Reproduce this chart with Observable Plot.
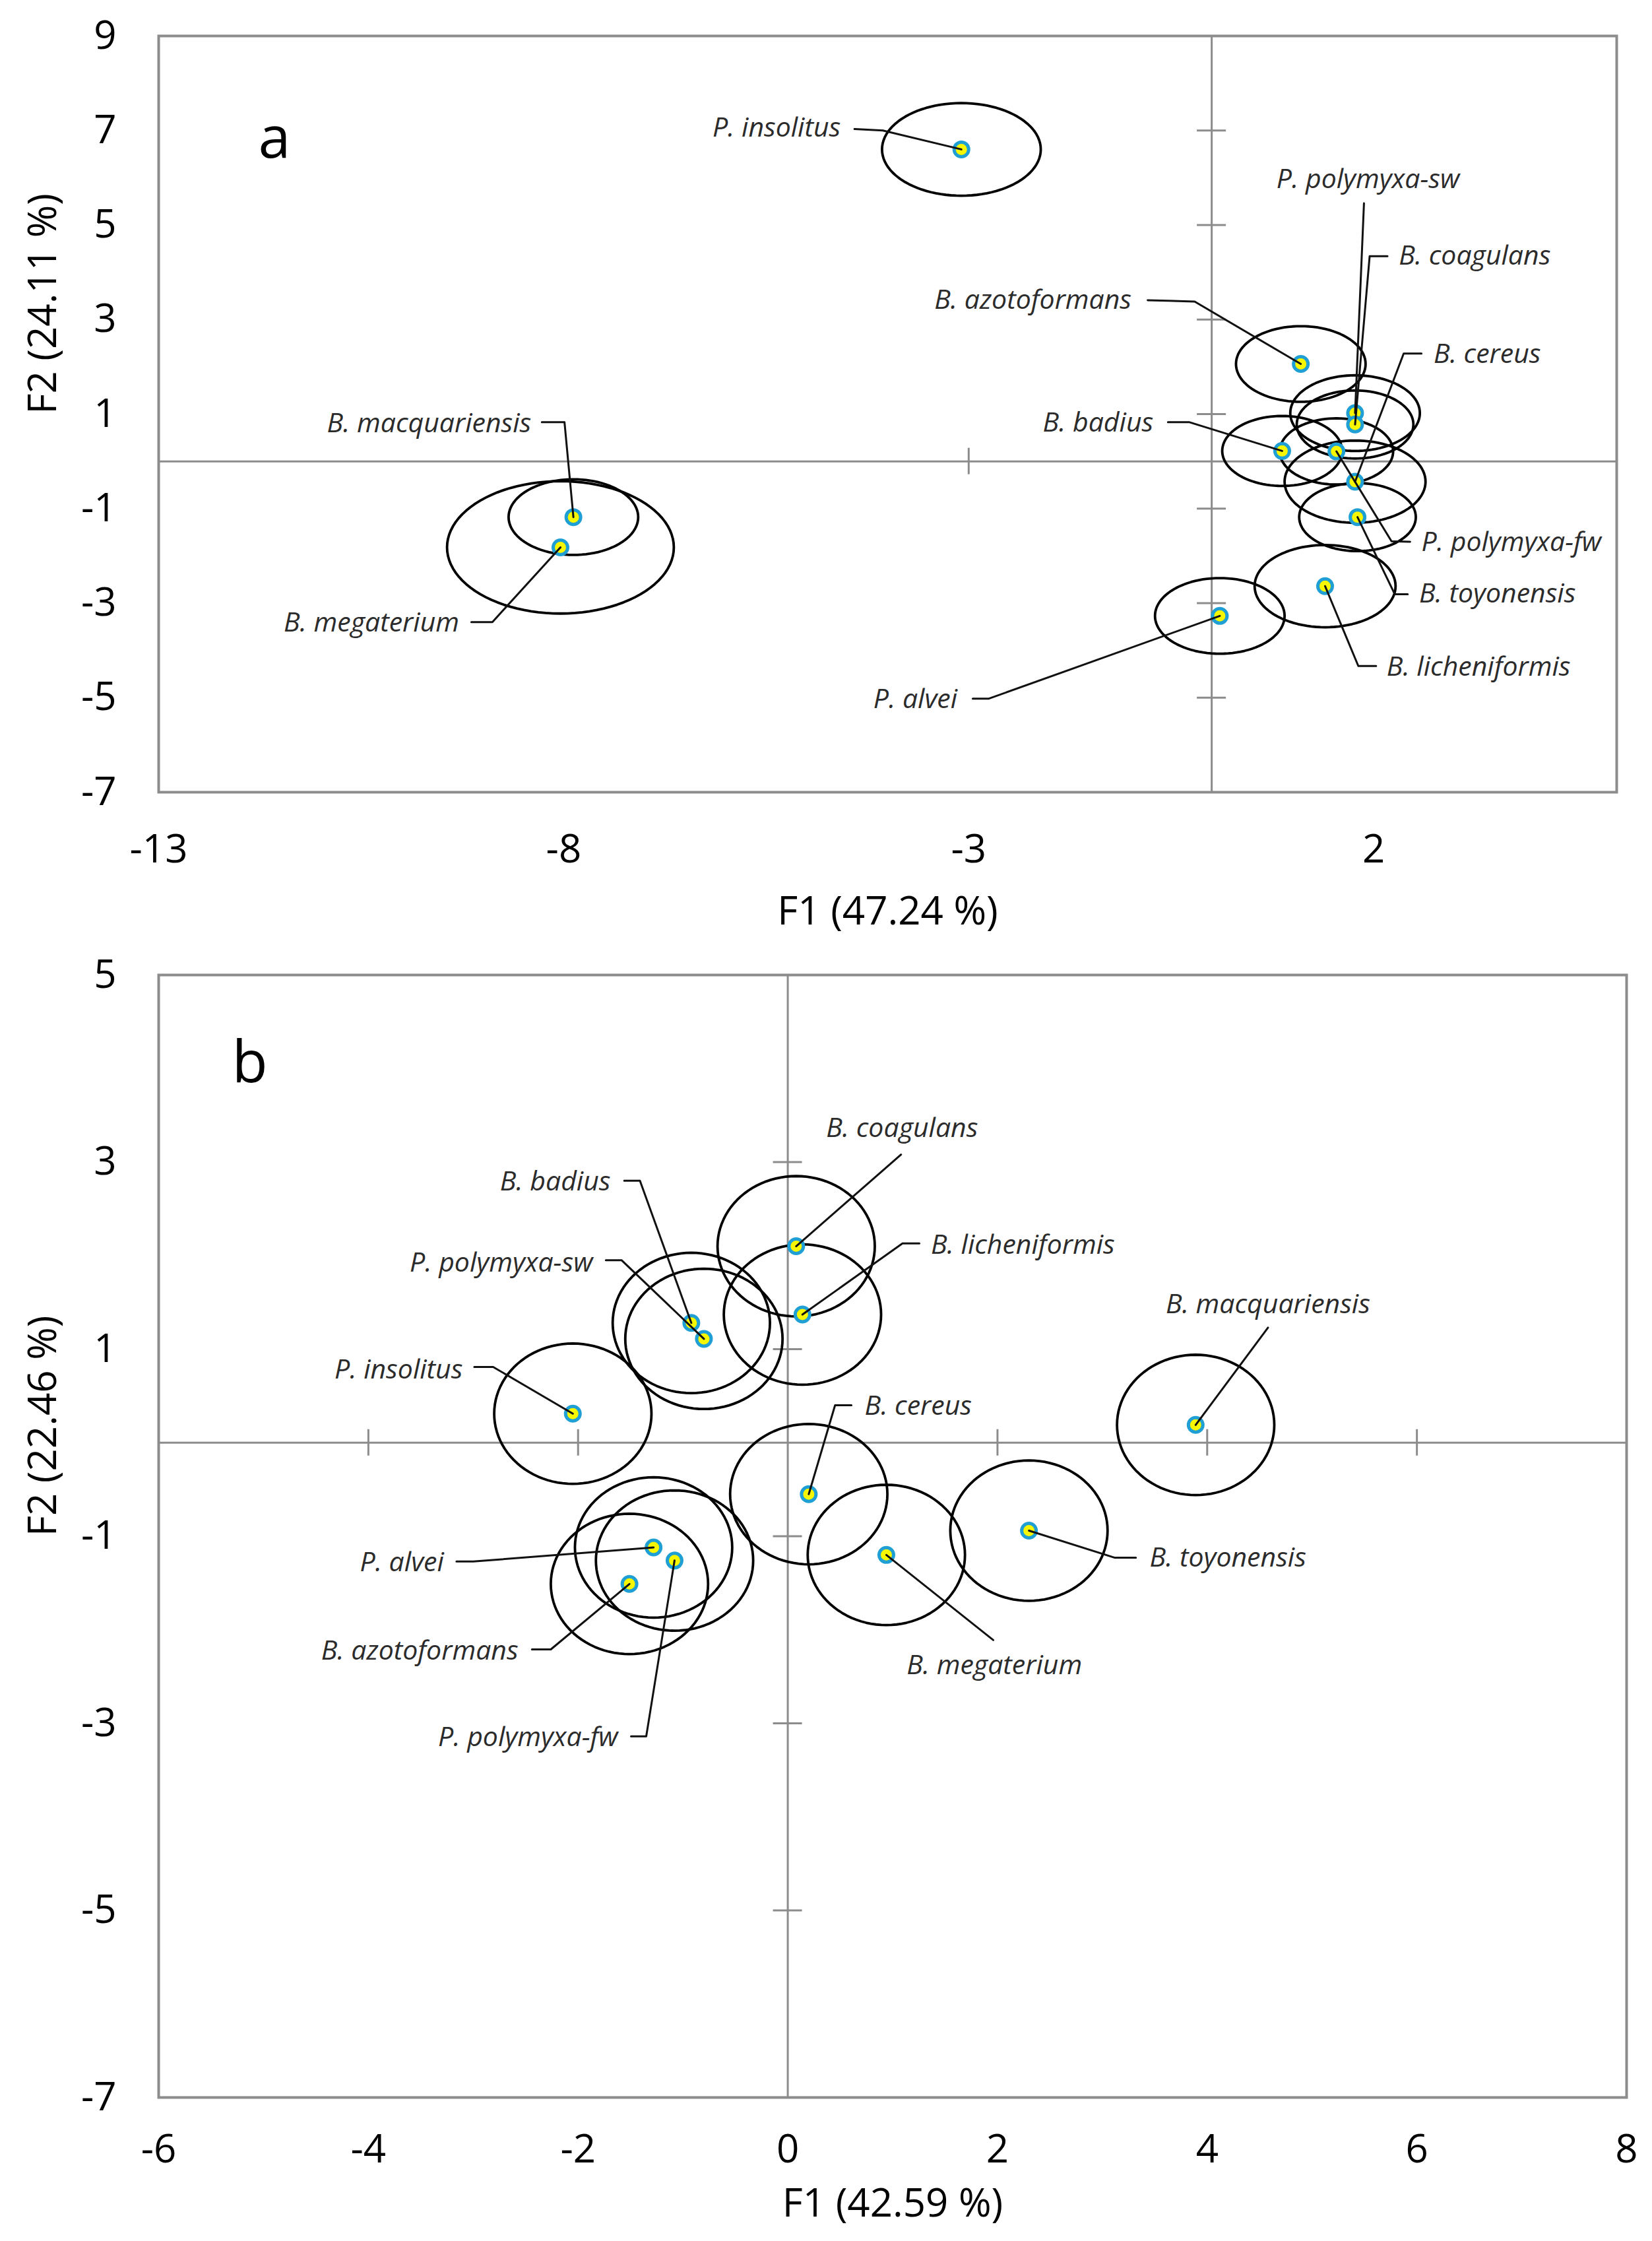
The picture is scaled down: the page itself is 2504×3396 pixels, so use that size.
<!DOCTYPE html>
<html><head><meta charset="utf-8">
<script src="https://cdn.jsdelivr.net/npm/d3@7"></script>
<script src="https://cdn.jsdelivr.net/npm/@observablehq/plot@0.6"></script>
<style>
body{margin:0;background:#fff;}
#wrap{width:2504px;height:3396px;position:relative;background:#fff;}
#wrap svg{display:block;}
</style></head><body><div id="wrap"><div id="pa"></div><div id="pb"></div></div>
<script>
// ---------- Panel a data ----------
const speciesA = ["P. insolitus","B. azotoformans","P. polymyxa-sw","B. coagulans","B. badius","P. polymyxa-fw","B. cereus","B. toyonensis","B. licheniformis","P. alvei","B. macquariensis","B. megaterium"];
const f1A = [-3.09, 1.10, 1.77, 1.77, 0.87, 1.54, 1.77, 1.80, 1.40, 0.10, -7.88, -8.04];
const f2A = [6.60, 2.06, 1.02, 0.78, 0.22, 0.21, -0.43, -1.18, -2.64, -3.27, -1.18, -1.82];
const radiusA = [0.98, 0.80, 0.80, 0.72, 0.74, 0.70, 0.87, 0.72, 0.87, 0.80, 0.80, 1.40];
const xTicksA = [-13, -8, -3, 2];
const yTicksA = [9, 7, 5, 3, 1, -1, -3, -5, -7];
const axisMarksXA = [-3];
const axisMarksYA = [7, 5, 3, 1, -1, -3, -5];

// ---------- Panel b data ----------
const speciesB = ["B. coagulans","B. licheniformis","B. badius","P. polymyxa-sw","P. insolitus","B. cereus","B. macquariensis","P. alvei","P. polymyxa-fw","B. azotoformans","B. megaterium","B. toyonensis"];
const f1B = [0.08, 0.14, -0.92, -0.80, -2.05, 0.20, 3.89, -1.28, -1.08, -1.51, 0.94, 2.30];
const f2B = [2.10, 1.37, 1.28, 1.11, 0.31, -0.55, 0.19, -1.12, -1.26, -1.51, -1.20, -0.94];
const radiusB = [0.75, 0.75, 0.75, 0.75, 0.75, 0.75, 0.75, 0.75, 0.75, 0.75, 0.75, 0.75];
const xTicksB = [-6, -4, -2, 0, 2, 4, 6, 8];
const yTicksB = [5, 3, 1, -1, -3, -5, -7];
const axisMarksXB = [-4, -2, 2, 4, 6];
const axisMarksYB = [3, 1, -1, -3, -5];

// ---------- Label layout (data units): text anchor point, leader start, leader elbow ----------
const labelsA = [
  {name:"P. insolitus",     anchor:"end",    tx:-4.58, ty:7.06,  sx:-4.41, sy:7.03, ex:-4.06, ey:7.00},
  {name:"P. polymyxa-sw",   anchor:"middle", tx:1.93,  ty:5.96,  sx:1.88,  sy:5.46, ex:1.88,  ey:5.46},
  {name:"B. coagulans",     anchor:"start",  tx:2.31,  ty:4.34,  sx:2.17,  sy:4.34, ex:1.95,  ey:4.34},
  {name:"B. azotoformans",  anchor:"end",    tx:-0.99, ty:3.41,  sx:-0.79, sy:3.41, ex:-0.21, ey:3.38},
  {name:"B. cereus",        anchor:"start",  tx:2.74,  ty:2.27,  sx:2.59,  sy:2.28, ex:2.37,  ey:2.28},
  {name:"B. badius",        anchor:"end",    tx:-0.72, ty:0.82,  sx:-0.54, sy:0.83, ex:-0.28, ey:0.83},
  {name:"P. polymyxa-fw",   anchor:"start",  tx:2.59,  ty:-1.72, sx:2.45,  sy:-1.70, ex:2.22, ey:-1.69},
  {name:"B. toyonensis",    anchor:"start",  tx:2.56,  ty:-2.80, sx:2.42,  sy:-2.81, ex:2.26, ey:-2.81},
  {name:"B. licheniformis", anchor:"start",  tx:2.16,  ty:-4.35, sx:2.03,  sy:-4.33, ex:1.81, ey:-4.33},
  {name:"P. alvei",         anchor:"end",    tx:-3.14, ty:-5.04, sx:-2.95, sy:-5.02, ex:-2.75, ey:-5.02},
  {name:"B. macquariensis", anchor:"end",    tx:-8.40, ty:0.80,  sx:-8.27, sy:0.83, ex:-7.99, ey:0.83},
  {name:"B. megaterium",    anchor:"end",    tx:-9.29, ty:-3.42, sx:-9.14, sy:-3.40, ex:-8.88, ey:-3.40}
];
const labelsB = [
  {name:"B. coagulans",     anchor:"middle", tx:1.09,  ty:3.36,  sx:1.08,  sy:3.08, ex:1.08,  ey:3.08},
  {name:"B. licheniformis", anchor:"start",  tx:1.365, ty:2.11,  sx:1.255, sy:2.13, ex:1.094, ey:2.13},
  {name:"B. cereus",        anchor:"start",  tx:0.733, ty:0.39,  sx:0.607, sy:0.40, ex:0.451, ey:0.40},
  {name:"B. macquariensis", anchor:"middle", tx:4.58,  ty:1.48,  sx:4.58,  sy:1.23, ex:4.58,  ey:1.23},
  {name:"B. toyonensis",    anchor:"start",  tx:3.45,  ty:-1.23, sx:3.32,  sy:-1.23, ex:3.12, ey:-1.23},
  {name:"B. megaterium",    anchor:"middle", tx:1.97,  ty:-2.38, sx:1.96,  sy:-2.11, ex:1.96, ey:-2.11},
  {name:"B. badius",        anchor:"end",    tx:-1.69, ty:2.79,  sx:-1.56, sy:2.80, ex:-1.41, ey:2.80},
  {name:"P. polymyxa-sw",   anchor:"end",    tx:-1.86, ty:1.92,  sx:-1.735, sy:1.95, ex:-1.584, ey:1.95},
  {name:"P. insolitus",     anchor:"end",    tx:-3.10, ty:0.78,  sx:-2.99, sy:0.81, ex:-2.81, ey:0.81},
  {name:"P. alvei",         anchor:"end",    tx:-3.28, ty:-1.28, sx:-3.16, sy:-1.27, ex:-3.00, ey:-1.27},
  {name:"B. azotoformans",  anchor:"end",    tx:-2.57, ty:-2.23, sx:-2.44, sy:-2.21, ex:-2.26, ey:-2.21},
  {name:"P. polymyxa-fw",   anchor:"end",    tx:-1.62, ty:-3.15, sx:-1.495, sy:-3.14, ex:-1.35, ey:-3.14}
];

const LINE = "#8c8c8c";

function panel(cfg) {
  const pts = cfg.species.map((name, i) => ({name, x: cfg.f1[i], y: cfg.f2[i], r: cfg.radius[i]}));
  const byName = new Map(pts.map(p => [p.name, p]));
  // circle outlines (confidence circles) traced through the data scales
  const ring = pts.flatMap(p => d3.range(0, 97).map(k => {
    const t = k * 2 * Math.PI / 96;
    return {name: p.name, x: p.x + p.r * Math.cos(t), y: p.y + p.r * Math.sin(t)};
  }));
  const leaders = cfg.labels.flatMap(l => {
    const p = byName.get(l.name);
    return [{name: l.name, x: l.sx, y: l.sy}, {name: l.name, x: l.ex, y: l.ey}, {name: l.name, x: p.x, y: p.y}];
  });
  const textStyle = {x: "tx", y: "ty", text: "name", fontSize: 41, fontStyle: "italic", fill: "#2b2b2b"};
  return Plot.plot({
    width: 2504,
    height: cfg.height,
    marginLeft: 240,
    marginRight: cfg.marginRight,
    marginTop: cfg.marginTop,
    marginBottom: cfg.marginBottom,
    style: {fontFamily: "'Open Sans', 'DejaVu Sans', sans-serif", fontSize: "60px", color: "#000", background: "#fff"},
    x: {domain: cfg.xDomain, ticks: cfg.xTicks, tickSize: 0, tickPadding: cfg.xTickPadding, tickFormat: d => String(d), label: null},
    y: {domain: cfg.yDomain, ticks: cfg.yTicks, tickSize: 0, tickPadding: 64, tickFormat: d => String(d), label: null},
    marks: [
      Plot.ruleX([0], {stroke: LINE, strokeWidth: 3}),
      Plot.ruleY([0], {stroke: LINE, strokeWidth: 3}),
      Plot.ruleY(cfg.axisMarksY, {x1: 0, x2: 0, insetLeft: -22, insetRight: -22, stroke: LINE, strokeWidth: 3}),
      Plot.ruleX(cfg.axisMarksX, {y1: 0, y2: 0, insetTop: -20, insetBottom: -20, stroke: LINE, strokeWidth: 3}),
      Plot.frame({stroke: LINE, strokeWidth: 4}),
      Plot.line(ring, {x: "x", y: "y", z: "name", stroke: "#000", strokeWidth: 3.8}),
      Plot.dot(pts, {x: "x", y: "y", r: 11, fill: "#f7f700", stroke: "#1f9fd4", strokeWidth: 5}),
      Plot.line(leaders, {x: "x", y: "y", z: "name", stroke: "#111", strokeWidth: 3}),
      Plot.text(cfg.labels.filter(d => d.anchor === "end"), {...textStyle, textAnchor: "end"}),
      Plot.text(cfg.labels.filter(d => d.anchor === "start"), {...textStyle, textAnchor: "start"}),
      Plot.text(cfg.labels.filter(d => d.anchor === "middle"), {...textStyle, textAnchor: "middle"}),
      Plot.text([cfg.letter], {x: cfg.letterX, y: cfg.letterY, text: d => d, fontSize: 88, fill: "#000"}),
      Plot.text([cfg.xTitle], {frameAnchor: "bottom", dy: cfg.xTitleDy, text: d => d, fontSize: 60, fill: "#000"}),
      Plot.text([cfg.yTitle], {frameAnchor: "left", dx: -175, rotate: -90, text: d => d, fontSize: 60, fill: "#000"})
    ]
  });
}

document.getElementById("pa").append(panel({
  species: speciesA, f1: f1A, f2: f2A, radius: radiusA, labels: labelsA,
  height: 1420, marginTop: 54, marginBottom: 220, marginRight: 54,
  xDomain: [-13, 5], yDomain: [-7, 9], xTicks: xTicksA, yTicks: yTicksA,
  axisMarksX: axisMarksXA, axisMarksY: axisMarksYA, xTickPadding: 64,
  letter: "a", letterX: -11.57, letterY: 6.82,
  xTitle: "F1 (47.24 %)", yTitle: "F2 (24.11 %)", xTitleDy: 200
}));
document.getElementById("pb").append(panel({
  species: speciesB, f1: f1B, f2: f2B, radius: radiusB, labels: labelsB,
  height: 1976, marginTop: 57, marginBottom: 218, marginRight: 39,
  xDomain: [-6, 8], yDomain: [-7, 5], xTicks: xTicksB, yTicks: yTicksB,
  axisMarksX: axisMarksXB, axisMarksY: axisMarksYB, xTickPadding: 56,
  letter: "b", letterX: -5.13, letterY: 4.05,
  xTitle: "F1 (42.59 %)", yTitle: "F2 (22.46 %)", xTitleDy: 180
}));
</script></body></html>
